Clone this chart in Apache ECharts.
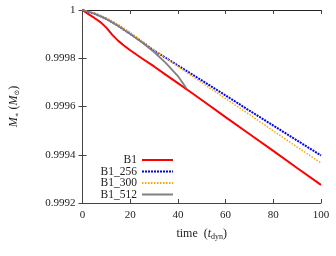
<!DOCTYPE html>
<html><head><meta charset="utf-8">
<script src="https://cdn.jsdelivr.net/npm/echarts@6/dist/echarts.min.js"></script>
<style>html,body{margin:0;padding:0;background:#fff}#c{width:336px;height:256px}</style>
</head><body><div id="c"></div>
<script>
const seriesNames = ['B1', 'B1_256', 'B1_300', 'B1_512'];
const tB1 = [0,2.5,5,7.5,10,12.5,15,17.5,20,25,30,35,40,45,50,60,70,80,90,100];
const mB1 = [1.000000,0.999983,0.999967,0.999950,0.999927,0.999897,0.999872,0.999852,0.999833,0.999799,0.999766,0.999731,0.999697,0.999662,0.999627,0.999556,0.999486,0.999416,0.999345,0.999275];
const t256 = [0,5,10,15,20,25,30,40,50,60,70,80,90,100];
const m256 = [1.000000,0.999985,0.999963,0.999934,0.999901,0.999867,0.999832,0.999770,0.999708,0.999646,0.999583,0.999521,0.999459,0.999397];
const t300 = [0,5,10,15,20,25,30,40,50,60,70,80,90,100];
const m300 = [1.000000,0.999988,0.999967,0.999940,0.999907,0.999872,0.999834,0.999766,0.999699,0.999633,0.999567,0.999499,0.999432,0.999366];
const t512 = [0,5,10,15,20,25,30,35,40,43.5];
const m512 = [1.000000,0.999985,0.999963,0.999934,0.999901,0.999865,0.999826,0.999780,0.999726,0.999677];
const xTicks = [0,20,40,60,80,100];
const yTicks = [0.9992,0.9994,0.9996,0.9998,1];

const zip = (t, m) => t.map((v, i) => [v, m[i]]);
const font = 'Liberation Serif';
const axisCol = '#444';
const chart = echarts.init(document.getElementById('c'));
const yFmt = v => { const r = Math.round(v * 10000) / 10000; return r === 1 ? '1' : r.toFixed(4); };
const legendRows = [154, 165.5, 177, 188.5];
chart.setOption({
  animation: false,
  grid: { left: 80, right: 15, top: 10, bottom: 53 },
  xAxis: [{
    type: 'value', min: xTicks[0], max: xTicks[xTicks.length - 1], interval: 20,
    name: '{n|time  (}{i|t}{s|dyn}{n|)}', nameLocation: 'middle', nameGap: 24,
    nameTextStyle: { rich: {
      n: { fontFamily: font, fontSize: 12, color: '#222' },
      i: { fontFamily: font, fontSize: 12, fontStyle: 'italic', color: '#222' },
      s: { fontFamily: font, fontSize: 8, color: '#222', padding: [6, 0, 0, 0] } } },
    axisLine: { show: true, lineStyle: { color: axisCol, width: 1 } },
    axisTick: { inside: true, length: 4, lineStyle: { color: axisCol } },
    axisLabel: { fontFamily: font, fontSize: 11, color: '#222', margin: 7 },
    splitLine: { show: false }
  }, {
    type: 'value', position: 'top', min: xTicks[0], max: xTicks[xTicks.length - 1], interval: 20,
    axisLine: { show: true, lineStyle: { color: '#222', width: 1 } },
    axisTick: { inside: true, length: 4, lineStyle: { color: axisCol } },
    axisLabel: { show: false }, splitLine: { show: false }
  }],
  yAxis: [{
    type: 'value', min: yTicks[0], max: yTicks[yTicks.length - 1], interval: 0.0002,
    name: '{i|M}{s|∗}{n| (}{i|M}{s|⊙}{n|)}', nameLocation: 'middle', nameGap: 62, nameRotate: 90,
    nameTextStyle: { rich: {
      n: { fontFamily: font, fontSize: 12, color: '#222' },
      i: { fontFamily: font, fontSize: 12, fontStyle: 'italic', color: '#222' },
      s: { fontFamily: 'DejaVu Serif', fontSize: 7, color: '#222', padding: [6, 0, 0, 0] } } },
    axisLine: { show: true, lineStyle: { color: axisCol, width: 1 } },
    axisTick: { inside: true, length: 4, lineStyle: { color: axisCol } },
    axisLabel: { fontFamily: font, fontSize: 11, color: '#222', margin: 7, formatter: yFmt },
    splitLine: { show: false }
  }, {
    type: 'value', position: 'right', min: yTicks[0], max: yTicks[yTicks.length - 1], interval: 0.0002,
    axisLine: { show: true, lineStyle: { color: axisCol, width: 1 } },
    axisTick: { inside: true, length: 4, lineStyle: { color: axisCol } },
    axisLabel: { show: false }, splitLine: { show: false }
  }],
  legend: seriesNames.map((n, i) => ({
    data: [n], right: 162, top: legendRows[i], align: 'right', orient: 'vertical',
    itemWidth: 31, itemHeight: 10, itemGap: 4, padding: 0,
    itemStyle: { opacity: 0 },
    textStyle: { fontFamily: font, fontSize: 11.5, color: '#222' }
  })),
  series: [
    { name: seriesNames[0], type: 'line', data: zip(tB1, mB1), showSymbol: false, symbol: 'none',
      lineStyle: { color: '#ff0000', width: 2 }, itemStyle: { color: '#ff0000' }, z: 3 },
    { name: seriesNames[1], type: 'line', data: zip(t256, m256), showSymbol: false, symbol: 'none',
      lineStyle: { color: '#0000ff', width: 2, type: [2, 1] }, itemStyle: { color: '#0000ff' }, z: 4 },
    { name: seriesNames[2], type: 'line', data: zip(t300, m300), showSymbol: false, symbol: 'none',
      lineStyle: { color: '#ffa500', width: 1.5, type: [1.5, 1.5] }, itemStyle: { color: '#ffa500' }, z: 5 },
    { name: seriesNames[3], type: 'line', data: zip(t512, m512), showSymbol: false, symbol: 'none',
      lineStyle: { color: '#808080', width: 1.8 }, itemStyle: { color: '#808080' }, z: 6 }
  ]
});
</script></body></html>
